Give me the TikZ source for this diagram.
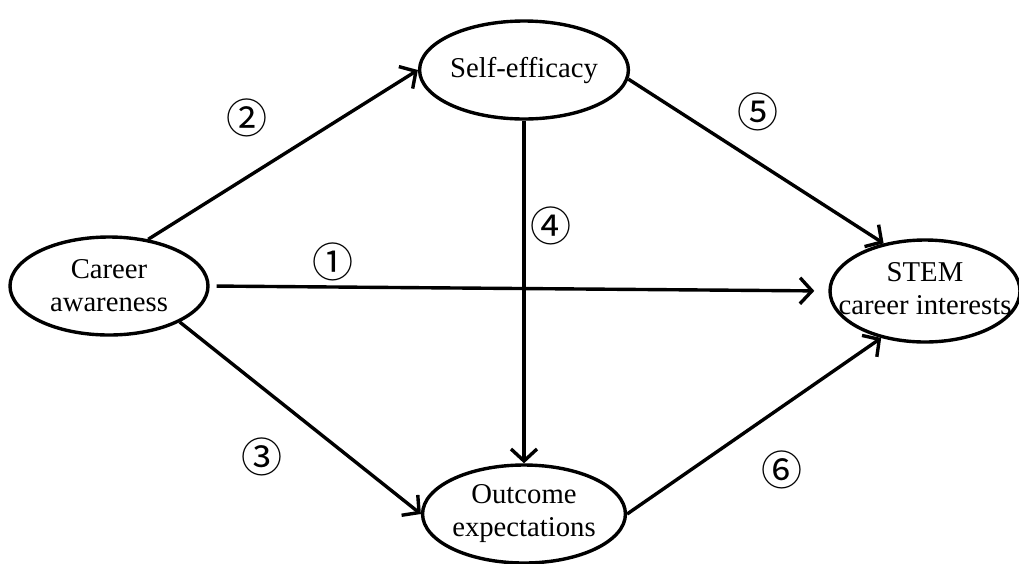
\documentclass[tikz,border=0pt]{standalone}
\usepackage{fontspec}
\setmainfont{Liberation Serif}
\newfontfamily\numfont{Noto Sans CJK SC}
\usetikzlibrary{shapes.geometric,arrows.meta}
\begin{document}
\begin{tikzpicture}[x=1pt,y=-1pt,
  concept/.style={draw,ellipse,line width=3.4pt,minimum width=198pt,minimum height=98pt,inner sep=0pt,
    font=\fontsize{28.7}{33}\selectfont,align=center},
  link/.style={line width=3.4pt,-{Straight Barb[length=12pt,width=26pt,line width=3.4pt]}},
  num/.style={font=\numfont\fontsize{41}{41}\selectfont,inner sep=0pt}]
\useasboundingbox (0,0) rectangle (1019,563);
\node[concept] (ca) at (109,286) {Career\\awareness};
\node[concept] (se) at (524,70) {Self-efficacy};
\node[concept,minimum width=190pt,minimum height=102pt] (st) at (925,291)
  {\makebox[100pt][c]{\begin{tabular}{@{}c@{}}STEM\\career interests\end{tabular}}};
\node[concept] (oe) at (524,514) {Outcome\\expectations};
\draw[link] (ca.50) -- (se.west);
\draw[link] (se.-5) -- (st.131);
\draw[link,shorten <=7pt,shorten >=14pt] (ca.east) -- (st.west);
\draw[link] (ca.-27) -- (oe.west);
\draw[link] (oe.east) -- (st.227);
\draw[link] (se.south) -- (oe.north);
\node[num] (n1) at (333,262) {①};
\node[num] (n2) at (247,118) {②};
\node[num] (n3) at (262,457) {③};
\node[num] (n4) at (551,226) {④};
\node[num] (n5) at (758,112) {⑤};
\node[num] (n6) at (782,470) {⑥};
\end{tikzpicture}
\end{document}
